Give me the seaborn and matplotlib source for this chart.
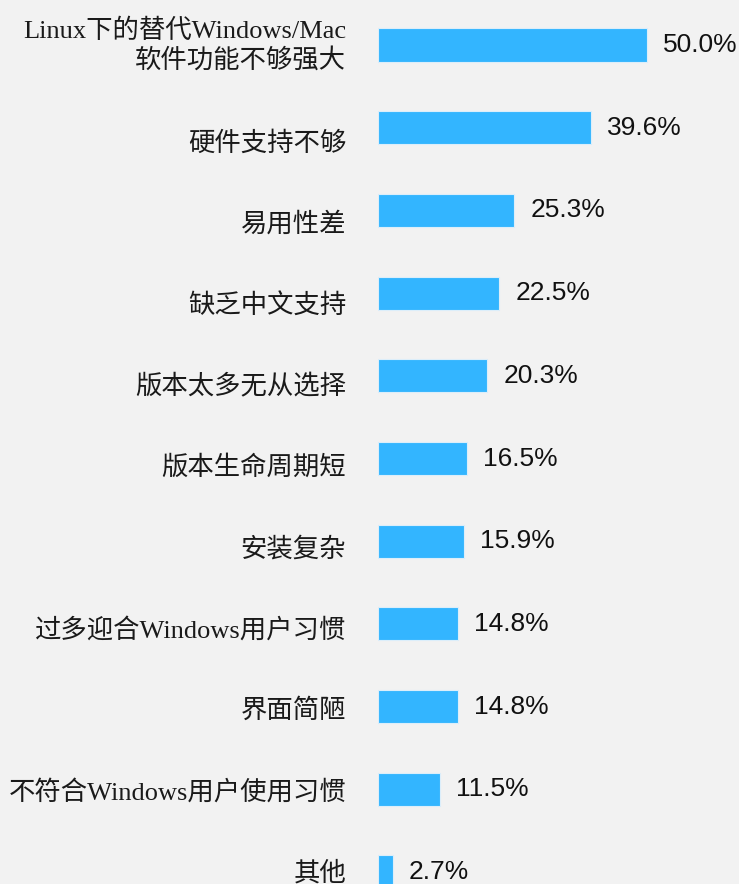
import pandas as pd
import seaborn as sns
from matplotlib import pyplot as plt
from matplotlib import transforms

# Data
categories = [
    'Linux下的替代Windows/Mac\n软件功能不够强大',
    '硬件支持不够',
    '易用性差',
    '缺乏中文支持',
    '版本太多无从选择',
    '版本生命周期短',
    '安装复杂',
    '过多迎合Windows用户习惯',
    '界面简陋',
    '不符合Windows用户使用习惯',
    '其他',
]
values = [50.0, 39.6, 25.3, 22.5, 20.3, 16.5, 15.9, 14.8, 14.8, 11.5, 2.7]

df = pd.DataFrame({'reason': categories, 'pct': values})

bg = '#f2f2f2'
bar_color = '#33b5ff'

sns.set_theme(style='white')
plt.rcParams['font.family'] = ['Liberation Serif', 'Noto Sans CJK SC', 'DejaVu Sans']

fig = plt.figure(figsize=(7.39, 8.84), dpi=100, facecolor=bg)
ax = fig.add_axes([378 / 739, 0, 361 / 739, 1])
ax.set_facecolor(bg)

sns.barplot(data=df, x='pct', y='reason', orient='h', color=bar_color,
            saturation=1, width=0.4, edgecolor='#dceefa', linewidth=0.8, ax=ax)

ax.set_xlim(0, 67.1)
ax.set_ylim(10 + 12 / 82.7, -45 / 82.7)

for i, v in enumerate(values):
    ax.text(v + 3.0, i, f'{v:.1f}%', va='center', ha='left', fontsize=19,
            family=['Liberation Sans', 'DejaVu Sans'], color='#111111')

ax.set_xlabel('')
ax.set_ylabel('')
ax.set_xticks([])
ax.tick_params(axis='y', length=0, pad=23)
# category labels sit slightly off the bar centres in the original
for i, lbl in enumerate(ax.get_yticklabels()):
    lbl.set_fontsize(19)
    lbl.set_color('#1a1a1a')
    lbl.set_linespacing(1.25)
    dy = 4.5 if i == 0 else -(13 - 1.6 * (i - 1))
    shift = transforms.ScaledTranslation(0, dy / 100, fig.dpi_scale_trans)
    lbl.set_transform(lbl.get_transform() + shift)
for s in ax.spines.values():
    s.set_visible(False)

plt.savefig('out.png', dpi=100, facecolor=bg)
